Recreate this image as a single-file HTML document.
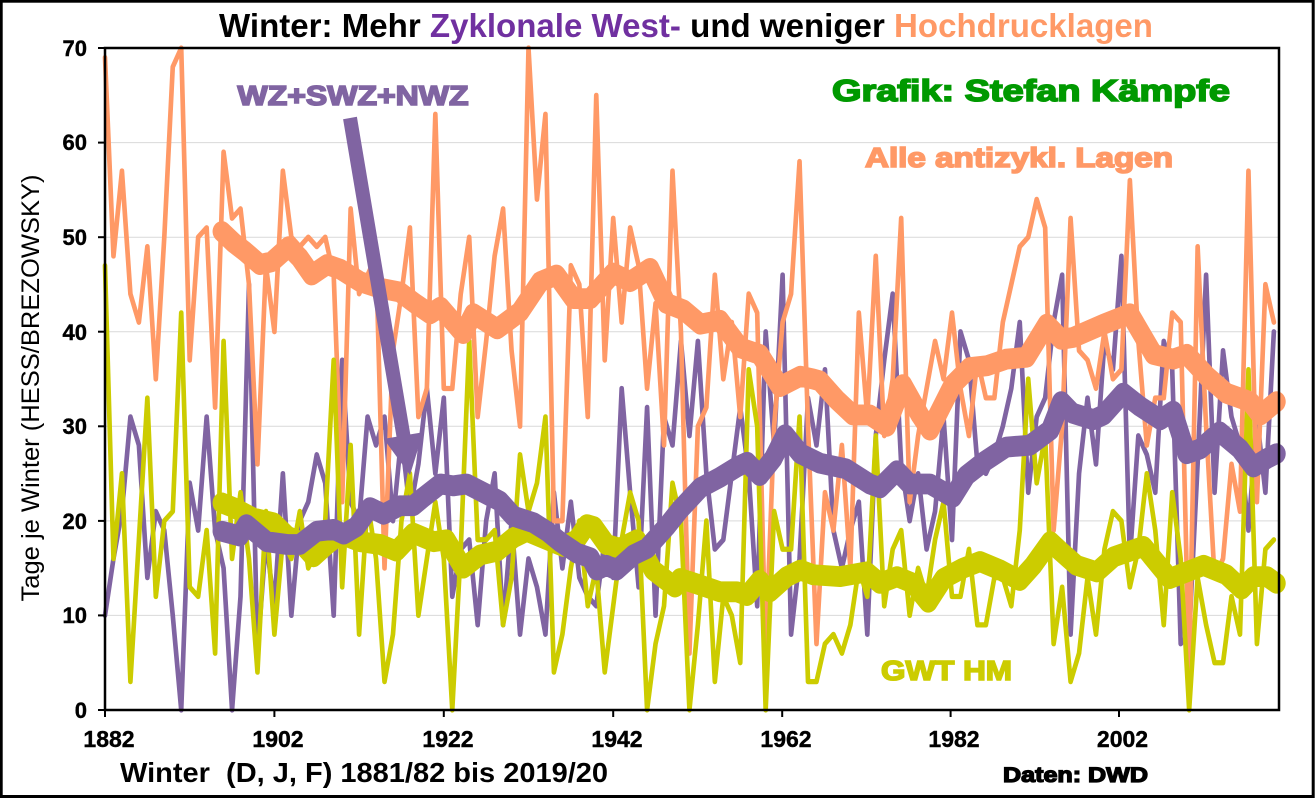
<!DOCTYPE html>
<html><head><meta charset="utf-8"><style>
html,body{margin:0;padding:0;background:#fff;}
svg{display:block;}
text{font-family:"Liberation Sans",Arial,sans-serif;}
</style></head><body>
<svg width="1316" height="799" viewBox="0 0 1316 799" xmlns="http://www.w3.org/2000/svg">
<rect x="0" y="0" width="1316" height="799" fill="#fff"/>
<!-- gridlines -->
<g stroke="#D9D9D9" stroke-width="1">
<line x1="105" y1="615.4" x2="1279" y2="615.4"/>
<line x1="105" y1="520.9" x2="1279" y2="520.9"/>
<line x1="105" y1="426.3" x2="1279" y2="426.3"/>
<line x1="105" y1="331.7" x2="1279" y2="331.7"/>
<line x1="105" y1="237.2" x2="1279" y2="237.2"/>
<line x1="105" y1="142.6" x2="1279" y2="142.6"/>
</g>
<g transform="translate(105,710) scale(8.47,-9.457)" fill="none" stroke-linejoin="round" stroke-linecap="round">
<polyline stroke="#8064A2" stroke-width="0.55" points="0,10 1,16 2,21 3,31 4,28 5,14 6,21 7,19 8,10 9,0 10,24 11,19 12,31 13,19 14,15 15,0 16,12 17,45 18,6 19,18 20,11 21,25 22,10 23,20 24,22 25,27 26,24 27,10 28,37 29,22 30,20 31,31 32,28 33,31 34,20 35,29 36,21 37,26 38,34 39,25 40,33 41,12 42,17 43,18 44,9 45,20 46,25 47,9 48,20 49,8 50,16 51,13 52,8 53,23 54,15 55,22 56,14 57,12 58,11 59,18 60,14 61,34 62,23 63,13 64,32 65,10 66,31 67,28 68,39 69,29 70,39 71,25 72,17 73,18 74,25 75,32 76,25 77,11 78,40 79,28 80,46 81,8 82,16 83,33 84,28 85,36 86,19 87,15 88,19 89,22 90,8 91,29 92,37 93,44 94,26 95,20 96,25 97,17 98,21 99,31 100,18 101,40 102,37 103,26 104,25 105,27 106,30 107,34 108,41 109,23 110,31 111,33 112,41 113,46 114,8 115,25 116,33 117,26 118,39 119,36 120,48 121,16 122,29 123,27 124,23 125,39 126,36 127,7 128,8 129,26 130,46 131,23 132,38 133,31 134,28 135,19 136,31 137,23 138,40"/>
<polyline stroke="#FF9966" stroke-width="0.55" points="0,69 1,48 2,57 3,44 4,41 5,49 6,35 7,50 8,68 9,70 10,37 11,50 12,51 13,32 14,59 15,52 16,53 17,45 18,26 19,47 20,40 21,57 22,50 23,49 24,50 25,49 26,50 27,46 28,22 29,53 30,44 31,46 32,48 33,15 34,38 35,44 36,51 37,31 38,34 39,63 40,34 41,34 42,44 43,50 44,31 45,39 46,48 47,53 48,38 49,30 50,70 51,54 52,63 53,20 54,20 55,47 56,45 57,31 58,65 59,37 60,52 61,41 62,51 63,47 64,34 65,43 66,28 67,57 68,40 69,6 70,30 71,32 72,46 73,35 74,41 75,31 76,44 77,42 78,6 79,30 80,41 81,44 82,58 83,30 84,7 85,23 86,19 87,28 88,15 89,42 90,31 91,48 92,29 93,35 94,52 95,22 96,29 97,34 98,39 99,35 100,42 101,34 102,29 103,37 104,33 105,33 106,41 107,45 108,49 109,50 110,54 111,51 112,19 113,30 114,52 115,38 116,37 117,34 118,40 119,35 120,36 121,56 122,39 123,28 124,33 125,33 126,42 127,41 128,4 129,49 130,30 131,14 132,16 133,26 134,21 135,57 136,22 137,45 138,41"/>
<polyline stroke="#CCCC00" stroke-width="0.55" points="0,47 1,16 2,25 3,3 4,18 5,33 6,12 7,20 8,21 9,42 10,13 11,12 12,19 13,6 14,39 15,16 16,23 17,16 18,4 19,21 20,8 21,18 22,16 23,21 24,15 25,17 26,20 27,37 28,13 29,28 30,8 31,22 32,16 33,3 34,8 35,20 36,25 37,10 38,16 39,22 40,16 41,0 42,17 43,39 44,18 45,18 46,19 47,9 48,14 49,27 50,21 51,24 52,31 53,4 54,8 55,15 56,20 57,11 58,15 59,4 60,11 61,18 62,23 63,20 64,0 65,7 66,11 67,24 68,20 69,0 70,9 71,20 72,3 73,12 74,10 75,5 76,36 77,30 78,0 79,21 80,17 81,17 82,31 83,3 84,3 85,7 86,8 87,6 88,9 89,15 90,12 91,29 92,11 93,17 94,19 95,10 96,15 97,12 98,18 99,22 100,12 101,12 102,17 103,9 104,9 105,14 106,14 107,11 108,19 109,35 110,24 111,29 112,7 113,13 114,3 115,6 116,14 117,8 118,17 119,21 120,20 121,13 122,17 123,25 124,19 125,9 126,23 127,16 128,0 129,14 130,9 131,5 132,5 133,12 134,8 135,36 136,7 137,17 138,18"/>
<!-- smoothed -->
<polyline stroke="#FF9966" stroke-width="2.2" points="13.8,50.6 15.2,49.4 16.5,48.5 18.3,47.1 19.7,47.4 21.7,49 23,47.8 24.4,46 26.2,47.1 27.8,46.6 30.1,45.3 32.5,44.6 34.8,44.2 36.6,43 38.4,41.9 39.6,42.6 42.3,39.8 43.5,41.9 46.3,40.3 49,42.1 51.4,45.3 53.3,46 55.3,43.5 57.3,43.5 60,46.2 62,45.3 64.35,46.7 66.3,43 68.3,42.3 70.3,40.8 72.6,41.2 75,38.3 77.3,37.6 79.7,34.2 82.1,35.3 83.6,35 84.4,34.8 86.4,32.8 88.3,31.2 90.3,31.2 92.3,30 94.2,34.4 96.2,31.2 97.4,29.6 100.1,34.4 102.1,36.2 104.1,36.4 106.4,37.1 108.8,37.3 111.2,40.8 112.9,39.2 114.3,39.4 117.9,40.8 121,41.9 123.8,37.6 126.1,37.1 127.7,37.6 130.1,35.3 132.4,33.5 135.2,32.6 136.4,31.2 138.3,32.6"/>
<polyline stroke="#CCCC00" stroke-width="2.2" points="13.8,21.9 15.2,21.4 17.5,20.3 19.9,19.8 21.5,18.4 23,17.8 24.6,16.2 26.2,17.5 27.8,18.6 30.1,17.8 32.5,17.5 34.4,16.8 36.4,18.7 38.8,17.8 40.3,18 42.3,15 44.3,16.4 46.3,16.8 48.2,18.2 49.8,18.9 52.2,18 54.1,17.3 55.7,18 56.9,19.6 57.7,19.4 59.2,17.5 60.8,17.1 62.8,18 64.7,14.8 67.3,13 67.9,13.9 70.3,13.2 72.6,12.5 74.6,12.5 75.8,12.1 77.3,13.7 78.5,12.5 80.5,14.1 82.1,14.8 83.6,14.3 86.8,14.1 89.9,14.6 91.5,13.4 93.5,14.1 95.4,13.4 97.2,11.4 99,13.9 101.3,15 103.3,15.7 105.7,14.8 108,13.7 109.6,15.3 111.6,17.8 112.8,16.8 114.7,15.3 117.1,14.6 119.1,16.2 122.6,17.3 125.7,13.9 127.7,14.6 129.7,15.3 132.4,14.3 134.2,12.8 135.6,14.1 137.2,14.1 138.3,13.4"/>
<polyline stroke="#8064A2" stroke-width="2.2" points="13.8,18.9 15.9,18.4 16.7,19.6 19.1,17.8 21.5,17.5 23,17.5 25,18.9 27,19.1 28.2,18.6 29.7,19.4 31.3,21.4 32.9,20.7 34.8,21.6 36.4,21.6 37.6,22.5 39.6,23.9 41.1,23.7 42.7,23.9 45.1,22.8 46.6,22.1 48.2,20.5 50.6,19.8 52.2,18.9 53.7,17.8 55.7,16.6 57.3,16.1 58.05,14.8 59.2,15.3 60.4,14.8 62.4,16.4 64,17.1 66.3,19.4 67.9,21.2 70.3,23.5 72.6,24.6 74.6,25.7 75.8,26.2 77.3,24.8 78.9,26.6 80.3,29.1 82.1,27.1 84.4,26.1 87.5,25.5 90.3,23.9 91.5,23.5 93.5,25.3 95,23.9 97.4,23.9 100.1,22.5 101.7,24.8 103.7,26.2 106.4,27.8 109.2,28 111.6,29.6 112.9,32.6 114.2,31.4 116.7,30.7 117.9,31.2 120.2,33.5 122.2,32.1 124.6,30.7 126.1,31.6 127.7,27.1 129.3,27.6 131.6,29.4 134,27.6 135.6,25.7 137.2,26.6 138.3,27.1"/>
</g>
<!-- axes & plot border -->
<g stroke="#000" stroke-width="2.5" fill="none">
<rect x="105" y="48" width="1174" height="662"/>
</g>
<g stroke="#000" stroke-width="2">
<line x1="98" y1="710" x2="105" y2="710"/>
<line x1="98" y1="615.4" x2="105" y2="615.4"/>
<line x1="98" y1="520.9" x2="105" y2="520.9"/>
<line x1="98" y1="426.3" x2="105" y2="426.3"/>
<line x1="98" y1="331.7" x2="105" y2="331.7"/>
<line x1="98" y1="237.2" x2="105" y2="237.2"/>
<line x1="98" y1="142.6" x2="105" y2="142.6"/>
<line x1="98" y1="48" x2="105" y2="48"/>
<line x1="105" y1="710" x2="105" y2="717"/>
<line x1="274.4" y1="710" x2="274.4" y2="717"/>
<line x1="443.8" y1="710" x2="443.8" y2="717"/>
<line x1="613.2" y1="710" x2="613.2" y2="717"/>
<line x1="782.2" y1="710" x2="782.2" y2="717"/>
<line x1="950.6" y1="710" x2="950.6" y2="717"/>
<line x1="1119" y1="710" x2="1119" y2="717"/>
</g>
<!-- y tick labels -->
<g font-size="22" font-weight="bold" text-anchor="end" fill="#000" stroke="#000" stroke-width="0.4">
<text x="87" y="718">0</text>
<text x="87" y="623">10</text>
<text x="87" y="529">20</text>
<text x="87" y="434">30</text>
<text x="87" y="340">40</text>
<text x="87" y="245">50</text>
<text x="87" y="150">60</text>
<text x="87" y="56">70</text>
</g>
<!-- x tick labels -->
<g font-size="23" font-weight="bold" text-anchor="middle" fill="#000" stroke="#000" stroke-width="0.4">
<text x="109" y="747">1882</text>
<text x="278" y="747">1902</text>
<text x="448" y="747">1922</text>
<text x="617" y="747">1942</text>
<text x="786" y="747">1962</text>
<text x="954" y="747">1982</text>
<text x="1122.5" y="747">2002</text>
</g>
<!-- axis titles -->
<text x="120" y="782" font-size="28" font-weight="bold" fill="#000" textLength="488" lengthAdjust="spacingAndGlyphs" xml:space="preserve">Winter  (D, J, F) 1881/82 bis 2019/20</text>
<text transform="translate(39,388) rotate(-90)" x="0" y="0" font-size="25" text-anchor="middle" fill="#000" textLength="427" lengthAdjust="spacingAndGlyphs">Tage je Winter (HESS/BREZOWSKY)</text>
<text x="1003" y="782" font-size="21" font-weight="bold" fill="#000" stroke="#000" stroke-width="1.3" textLength="145" lengthAdjust="spacingAndGlyphs">Daten: DWD</text>
<!-- title -->
<text x="219" y="37" font-size="33" font-weight="bold" fill="#000" textLength="934" lengthAdjust="spacingAndGlyphs">Winter: Mehr <tspan fill="#7030A0">Zyklonale West-</tspan> und weniger <tspan fill="#FF9966">Hochdrucklagen</tspan></text>
<!-- labels -->
<text x="237.5" y="105" font-size="28" font-weight="bold" fill="#8064A2" stroke="#8064A2" stroke-width="1.6" textLength="231" lengthAdjust="spacingAndGlyphs">WZ+SWZ+NWZ</text>
<text x="832" y="101" font-size="31" font-weight="bold" fill="#009900" stroke="#009900" stroke-width="1.6" textLength="398" lengthAdjust="spacingAndGlyphs">Grafik: Stefan Kämpfe</text>
<text x="865" y="167" font-size="28" font-weight="bold" fill="#FF9966" stroke="#FF9966" stroke-width="1.6" textLength="308" lengthAdjust="spacingAndGlyphs">Alle antizykl. Lagen</text>
<text x="881" y="680" font-size="28" font-weight="bold" fill="#CCCC00" stroke="#CCCC00" stroke-width="1.6" textLength="131" lengthAdjust="spacingAndGlyphs">GWT HM</text>
<!-- arrow -->
<polygon fill="#8064A2" points="343.1,119.2 356.9,116.8 410.3,434.4 423.1,432.3 410,475 383.7,438.9 396.5,436.8"/>
<!-- outer frame -->
<rect x="1.2" y="1.2" width="1312" height="795.3" fill="none" stroke="#000" stroke-width="3"/>
</svg>
</body></html>
